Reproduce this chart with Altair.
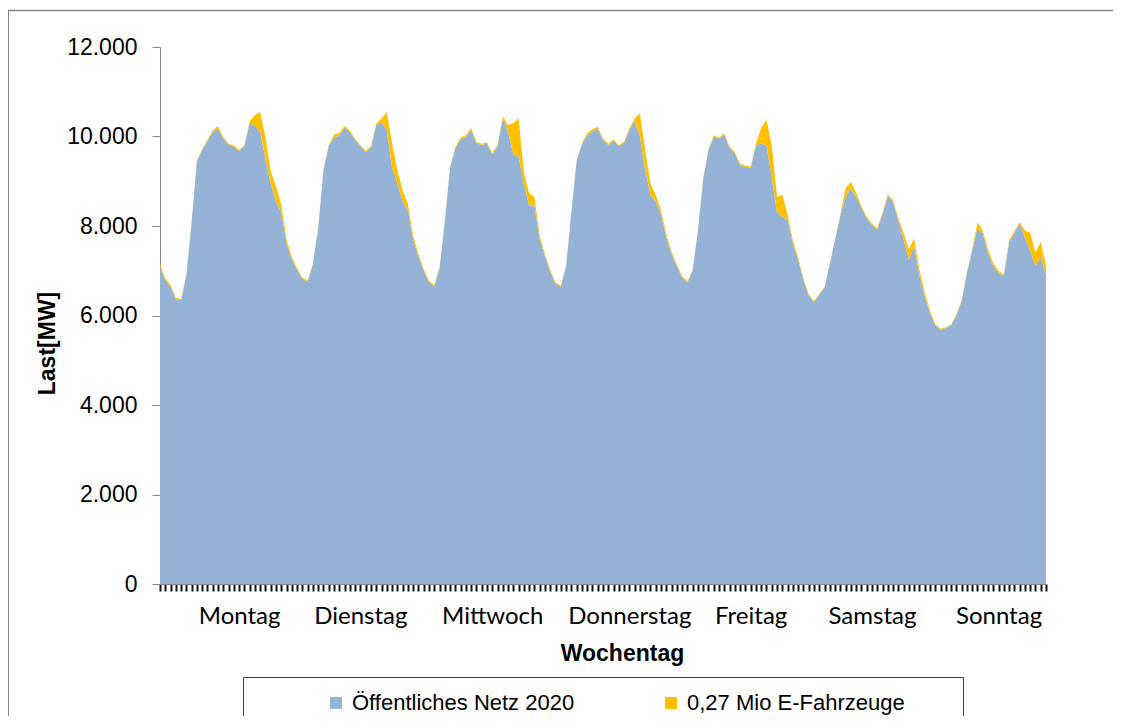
import altair as alt
import pandas as pd

# hourly load (MW), Monday 0:00 .. Sunday 24:00
base = [
    # Montag
    7090, 6780, 6640, 6370, 6340, 6900, 8100, 9450, 9700, 9900, 10100, 10180,
    9950, 9810, 9770, 9670, 9780, 10300, 10230, 10100, 9500, 8950, 8550, 8300,
    # Dienstag
    7600, 7250, 7020, 6820, 6760, 7150, 7950, 9250, 9780, 9980, 10020, 10200,
    10100, 9920, 9780, 9650, 9760, 10250, 10320, 10150, 9300, 8950, 8550, 8350,
    # Mittwoch
    7700, 7320, 7000, 6750, 6650, 7050, 8100, 9300, 9740, 9940, 9990, 10150,
    9850, 9810, 9840, 9600, 9780, 10400, 10100, 9600, 9550, 8950, 8450, 8450,
    # Donnerstag
    7700, 7330, 6970, 6710, 6640, 7100, 8300, 9450, 9820, 10030, 10110, 10180,
    9930, 9810, 9910, 9780, 9860, 10150, 10340, 10000, 9250, 8700, 8550, 8250,
    # Freitag
    7750, 7380, 7100, 6850, 6740, 7000, 7900, 9050, 9700, 9990, 9950, 10040,
    9750, 9625, 9360, 9320, 9300, 9800, 9850, 9800, 9100, 8300, 8200, 8150,
    # Samstag
    7610, 7250, 6800, 6450, 6300, 6460, 6620, 7150, 7690, 8230, 8650, 8850,
    8650, 8400, 8180, 8020, 7920, 8270, 8680, 8550, 8120, 7700, 7250, 7550,
    # Sonntag
    6900, 6430, 6050, 5780, 5680, 5720, 5780, 6000, 6320, 6950, 7450, 7950,
    7836, 7400, 7100, 6950, 6880, 7650, 7850, 8060, 7750, 7450, 7100, 7300,
    6900,
]

ev = [
    60, 50, 40, 30, 30, 20, 20, 20, 20, 30, 40, 50,
    40, 30, 30, 30, 30, 40, 250, 450, 480, 280, 330, 180,
    100, 60, 40, 30, 30, 20, 20, 20, 30, 60, 60, 40,
    30, 30, 30, 30, 30, 40, 80, 400, 550, 300, 250, 150,
    90, 60, 40, 30, 30, 20, 20, 20, 30, 40, 40, 40,
    30, 30, 30, 30, 30, 50, 150, 700, 850, 250, 280, 190,
    80, 50, 40, 30, 30, 20, 20, 20, 30, 50, 50, 40,
    30, 30, 30, 30, 30, 40, 60, 520, 440, 250, 150, 90,
    70, 50, 40, 30, 30, 20, 20, 20, 20, 40, 30, 30,
    30, 30, 30, 30, 30, 40, 350, 570, 700, 350, 500, 100,
    70, 50, 40, 30, 30, 20, 20, 20, 20, 30, 200, 130,
    100, 40, 30, 30, 30, 30, 30, 30, 60, 150, 230, 170,
    130, 90, 60, 30, 30, 20, 20, 20, 20, 20, 30, 130,
    70, 80, 70, 50, 30, 40, 30, 30, 150, 400, 300, 350,
    220,
]

series_names = ["Öffentliches Netz 2020", "0,27 Mio E-Fahrzeuge"]
series_colors = ["#95B3D7", "#FFC000"]

day_names = ["Montag", "Dienstag", "Mittwoch", "Donnerstag", "Freitag", "Samstag", "Sonntag"]
day_label_hours = [15, 38, 63, 89, 112, 135, 159]

y_ticks = [0, 2000, 4000, 6000, 8000, 10000, 12000]
x_ticks = list(range(0, 169))

rows = []
for i, (b, e) in enumerate(zip(base, ev)):
    rows.append({"h": i, "series": series_names[0], "k": 0, "v": b})
    rows.append({"h": i, "series": series_names[1], "k": 1, "v": e})
df = pd.DataFrame(rows)

label_expr = "''"
for name, h in reversed(list(zip(day_names, day_label_hours))):
    label_expr = f"datum.value === {h} ? '{name}' : ({label_expr})"

area = alt.Chart(df).mark_area(interpolate="linear").encode(
    x=alt.X(
        "h:Q",
        scale=alt.Scale(domain=[0, 168], nice=False, zero=False),
        axis=alt.Axis(
            values=x_ticks,
            labelExpr=label_expr,
            labelOverlap=False,
            labelFlush=False,
            labelFont="Lato",
            labelFontSize=24,
            labelColor="black",
            labelBaseline="alphabetic",
            labelPadding=32,
            tickSize=7,
            tickWidth=2,
            tickColor="#111111",
            domainColor="#868686",
            title="Wochentag",
            titleFont="Liberation Sans",
            titleFontSize=23,
            titleFontWeight="bold",
            titleColor="black",
            titleX=462,
            titleY=76,
            titleBaseline="alphabetic",
            titleAlign="center",
        ),
    ),
    y=alt.Y(
        "v:Q",
        stack="zero",
        scale=alt.Scale(domain=[0, 12000], nice=False),
        axis=alt.Axis(
            values=y_ticks,
            labelExpr="replace(format(datum.value, ',d'), ',', '.')",
            labelFont="Liberation Sans",
            labelFontSize=23,
            labelColor="black",
            labelPadding=15,
            tickSize=8,
            tickColor="#868686",
            domainColor="#868686",
            title="Last[MW]",
            titleFont="Liberation Sans",
            titleFontSize=23,
            titleFontWeight="bold",
            titleColor="black",
            titleAngle=270,
            titleX=-113,
            titleY=296,
            titleAlign="center",
            titleBaseline="middle",
        ),
    ),
    color=alt.Color(
        "series:N",
        scale=alt.Scale(domain=series_names, range=series_colors),
        sort=series_names,
        legend=alt.Legend(
            orient="none",
            legendX=165,
            legendY=645,
            direction="horizontal",
            title=None,
            symbolType="square",
            symbolSize=144,
            symbolStrokeWidth=0,
            labelFont="Liberation Sans",
            labelFontSize=22,
            labelColor="black",
            labelLimit=400,
            labelOffset=5,
            columnPadding=85,
            padding=0,
        ),
    ),
    order=alt.Order("k:Q", sort="ascending"),
)

one = alt.Data(values=[{"a": 1}])

legend_box = alt.Chart(one).mark_rect(filled=False, stroke="#404040", strokeWidth=1).encode(
    x=alt.value(83.5), x2=alt.value(803.5), y=alt.value(630.5), y2=alt.value(730)
)
border_left = alt.Chart(one).mark_rule(color="#868686", strokeWidth=1).encode(
    x=alt.value(-151.5), y=alt.value(-36.5), y2=alt.value(730)
)
border_top = alt.Chart(one).mark_rule(color="#868686", strokeWidth=1.5).encode(
    x=alt.value(-152), x2=alt.value(960), y=alt.value(-36.5)
)

chart = alt.layer(area, legend_box, border_left, border_top).properties(
    width=886,
    height=537,
    autosize=alt.AutoSizeParams(type="none"),
    padding={"left": 152, "top": 39, "right": 67, "bottom": 132},
    background="white",
).configure_view(strokeWidth=0).configure_axis(grid=False)

chart.save("out.html", embed_options={"renderer": "svg", "actions": False})
